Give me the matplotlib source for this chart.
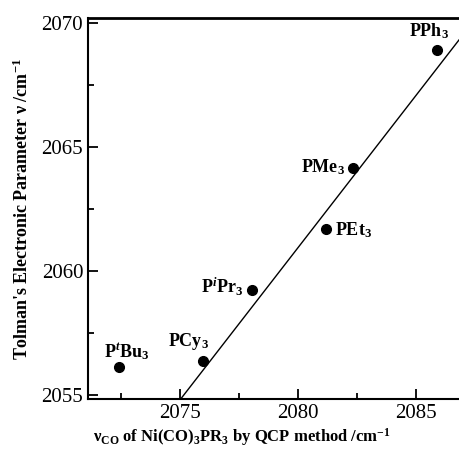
import matplotlib
matplotlib.use("Agg")
import matplotlib.pyplot as plt
from matplotlib.ticker import MultipleLocator

plt.rcParams["font.family"] = ["Liberation Serif", "DejaVu Serif"]
plt.rcParams["mathtext.fontset"] = "custom"
plt.rcParams["mathtext.rm"] = "Liberation Serif:bold"
plt.rcParams["mathtext.it"] = "Liberation Serif:italic:bold"
plt.rcParams["mathtext.bf"] = "Liberation Serif:bold"

# data
ligands = [r"P$^{t}$Bu$_3$", r"PCy$_3$", r"P$^{i}$Pr$_3$", r"PEt$_3$", r"PMe$_3$", r"PPh$_3$"]
qcp_nu = [2072.43, 2075.96, 2078.03, 2081.16, 2082.33, 2085.88]
tep_nu = [2056.14, 2056.38, 2059.23, 2061.69, 2064.14, 2068.88]
fit_x = [2075.03, 2086.8]
fit_slope = 1.229
fit_y0 = 2054.84  # value of the fit at fit_x[0]

# label offsets (points) and alignment per ligand
lab_off = [(5, 11), (-10, 14), (-6, 2), (7, -1), (-6, 1), (-6, 14)]
lab_ha = ["center", "center", "right", "left", "right", "center"]

fig = plt.figure(figsize=(4.59, 4.54), dpi=100)
ax = fig.add_axes([0.1917, 0.1211, 0.8083, 0.8393])

fy = [fit_y0 + fit_slope * (x - fit_x[0]) for x in fit_x]
ax.plot(fit_x, fy, color="black", lw=1.0, clip_on=False)
ax.plot(qcp_nu, tep_nu, "o", color="black", ms=7, zorder=3)
for name, x, y, off, ha in zip(ligands, qcp_nu, tep_nu, lab_off, lab_ha):
    ax.annotate(name, (x, y), xytext=off, textcoords="offset points", ha=ha, va="center",
                fontsize=13, fontweight="bold")

ax.set_xlim(2071.11, 2086.8); ax.set_ylim(2054.84, 2070.19)
ax.xaxis.set_major_locator(MultipleLocator(5)); ax.xaxis.set_minor_locator(MultipleLocator(2.5))
ax.yaxis.set_major_locator(MultipleLocator(5)); ax.yaxis.set_minor_locator(MultipleLocator(2.5))
ax.tick_params(which="both", direction="in", labelsize=15, width=1.3)
ax.tick_params(which="major", length=7); ax.tick_params(which="minor", length=4)
ax.spines["right"].set_visible(False)
for s in ["left", "bottom"]: ax.spines[s].set_linewidth(1.5)
ax.spines["top"].set_linewidth(2)

ax.set_xlabel(r"ν$_{\mathrm{CO}}$ of Ni(CO)$_3$PR$_3$ by QCP method /cm$^{\mathrm{-1}}$", fontsize=12, fontweight="bold")
ax.set_ylabel(r"Tolman's Electronic Parameter ν /cm$^{\mathrm{-1}}$", fontsize=13, fontweight="bold", labelpad=7)
ax.xaxis.set_label_coords(0.415, -0.10)
ax.xaxis.label.set_va("center")

fig.savefig("out.png", dpi=100)
